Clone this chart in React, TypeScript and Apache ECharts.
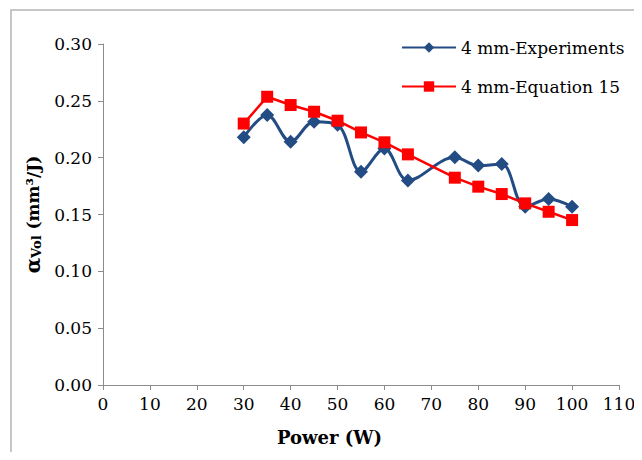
import React, { useEffect, useRef } from "react";
import * as echarts from "echarts";

const powerExp = [30, 35, 40, 45, 50, 55, 60, 65, 75, 80, 85, 90, 95, 100];
const alphaExp = [0.218, 0.2375, 0.214, 0.2316, 0.229, 0.1876, 0.208, 0.18, 0.2003, 0.193, 0.1944, 0.1568, 0.1636, 0.1568];
const powerEq = [30, 35, 40, 45, 50, 55, 60, 65, 75, 80, 85, 90, 95, 100];
const alphaEq = [0.23, 0.2536, 0.2463, 0.2404, 0.2325, 0.2222, 0.2135, 0.2029, 0.1824, 0.1745, 0.168, 0.1598, 0.1524, 0.1451];
const seriesNames = ["4 mm-Experiments", "4 mm-Equation 15"];

const FONT = "DejaVu Serif";

export default function App() {
  const ref = useRef<HTMLDivElement>(null);
  useEffect(() => {
    if (!ref.current) return;
    const chart = echarts.init(ref.current, undefined, { renderer: "svg" });
    chart.setOption({
      animation: false,
      backgroundColor: "#ffffff",
      textStyle: { fontFamily: FONT },
      grid: { left: 103, right: 23, top: 44, bottom: 75, containLabel: false },
      legend: {
        left: 396,
        top: 34,
        orient: "vertical",
        itemWidth: 54,
        itemHeight: 13,
        itemGap: 22,
        textStyle: { fontFamily: FONT, fontSize: 17, color: "#000" },
        data: seriesNames,
      },
      xAxis: {
        type: "value",
        min: 0,
        max: 110,
        interval: 10,
        axisLine: { show: true, lineStyle: { color: "#8c8c8c", width: 1 } },
        axisTick: { show: true, length: 5, inside: false, lineStyle: { color: "#8c8c8c" } },
        splitLine: { show: false },
        axisLabel: { fontFamily: FONT, fontSize: 17, color: "#000", margin: 10 },
      },
      yAxis: {
        type: "value",
        min: 0,
        max: 0.3,
        interval: 0.05,
        axisLine: { show: true, lineStyle: { color: "#8c8c8c", width: 1 } },
        axisTick: { show: true, length: 5, inside: false, lineStyle: { color: "#8c8c8c" } },
        splitLine: { show: false },
        axisLabel: {
          fontFamily: FONT,
          fontSize: 17,
          color: "#000",
          margin: 11,
          formatter: (v: number) => v.toFixed(2),
        },
        name: "{a|α}{s|Vol}{b| (mm³/J)}",
        nameLocation: "middle",
        nameGap: 56,
        nameRotate: 90,
        nameTextStyle: {
          fontFamily: FONT,
          rich: {
            a: { fontFamily: FONT, fontSize: 20, fontWeight: "bold", color: "#000" },
            s: { fontFamily: FONT, fontSize: 13, fontWeight: "bold", color: "#000", verticalAlign: "bottom", padding: [8, 0, 0, 0] },
            b: { fontFamily: FONT, fontSize: 17, fontWeight: "bold", color: "#000" },
          },
        },
      },
      graphic: [
        {
          type: "rect",
          silent: true,
          shape: { x: 11, y: 10, width: 700, height: 500 },
          style: { fill: "none", stroke: "#b4b4b4", lineWidth: 1.5 },
        },
        {
          type: "text",
          left: 277,
          top: 428,
          style: { text: "Power (W)", fontFamily: FONT, fontSize: 18, fontWeight: "bold", fill: "#000" },
        },
      ],
      series: [
        {
          name: seriesNames[0],
          type: "line",
          smooth: 0.35,
          data: powerExp.map((p, i) => [p, alphaExp[i]]),
          symbol: "diamond",
          symbolSize: 14,
          itemStyle: { color: "#244C84" },
          lineStyle: { color: "#244C84", width: 3 },
        },
        {
          name: seriesNames[1],
          type: "line",
          smooth: false,
          data: powerEq.map((p, i) => [p, alphaEq[i]]),
          symbol: "rect",
          symbolSize: 12,
          itemStyle: { color: "#FF0000" },
          lineStyle: { color: "#FF0000", width: 2.5 },
        },
      ],
    });
    return () => chart.dispose();
  }, []);
  return <div ref={ref} style={{ width: 642, height: 460, margin: -8 }} />;
}
